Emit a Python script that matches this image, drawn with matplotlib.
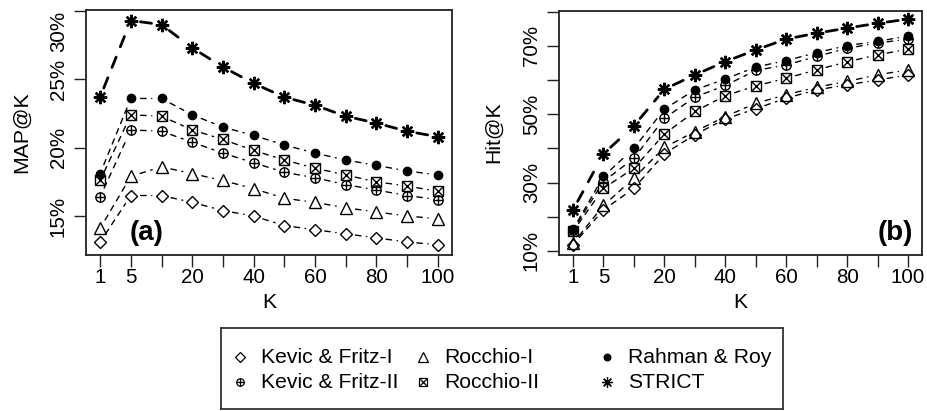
import matplotlib
matplotlib.use('Agg')
import matplotlib.pyplot as plt
import numpy as np

plt.rcParams['font.family'] = ['Liberation Sans', 'DejaVu Sans']

# K values (equally spaced on the axis), labels R kept after overlap removal
K = [1, 5, 10, 20, 30, 40, 50, 60, 70, 80, 90, 100]
K_SHOWN = ['1', '5', '', '20', '', '40', '', '60', '', '80', '', '100']

METHODS = ['Kevic & Fritz-I', 'Kevic & Fritz-II', 'Rocchio-I',
           'Rocchio-II', 'Rahman & Roy', 'STRICT']

# (a) MAP@K in %
map_kf1 = [13.1, 16.5, 16.5, 16.0, 15.4, 15.0, 14.3, 14.0, 13.7, 13.4, 13.1, 12.9]
map_kf2 = [16.4, 21.3, 21.2, 20.4, 19.6, 18.9, 18.2, 17.8, 17.3, 16.9, 16.5, 16.2]
map_r1 = [14.1, 17.9, 18.6, 18.1, 17.6, 17.0, 16.3, 16.0, 15.6, 15.3, 15.0, 14.8]
map_r2 = [17.6, 22.4, 22.3, 21.3, 20.6, 19.8, 19.1, 18.5, 18.0, 17.5, 17.2, 16.8]
map_rr = [18.1, 23.6, 23.6, 22.4, 21.5, 20.9, 20.2, 19.6, 19.1, 18.7, 18.3, 18.0]
map_strict = [23.7, 29.3, 29.0, 27.3, 25.9, 24.7, 23.7, 23.1, 22.3, 21.8, 21.2, 20.8]

# (b) Hit@K in %
hit_kf1 = [11.8, 22.0, 28.3, 38.4, 44.0, 48.6, 51.6, 54.7, 57.1, 58.6, 60.0, 61.5]
hit_kf2 = [16.1, 30.3, 37.1, 48.8, 55.0, 58.4, 62.8, 64.4, 66.9, 69.3, 70.8, 72.0]
hit_r1 = [12.2, 23.3, 31.3, 40.3, 44.9, 49.3, 53.2, 55.7, 57.9, 59.6, 61.5, 63.0]
hit_r2 = [15.7, 28.3, 34.2, 44.2, 50.8, 55.4, 58.3, 60.5, 63.0, 65.3, 67.4, 69.0]
hit_rr = [16.3, 31.8, 40.0, 51.5, 57.1, 60.3, 63.8, 65.7, 68.0, 70.1, 71.3, 72.9]
hit_strict = [22.0, 38.4, 46.6, 57.3, 61.5, 65.4, 68.8, 72.0, 73.7, 75.2, 76.6, 77.8]

MAP_SERIES = [map_kf1, map_kf2, map_r1, map_r2, map_rr, map_strict]
HIT_SERIES = [hit_kf1, hit_kf2, hit_r1, hit_r2, hit_rr, hit_strict]

# marker layers per method: (marker, size, filled, edge width)
MARKERS = {
    'Kevic & Fritz-I': [('D', 6.6, False, 1.0)],
    'Kevic & Fritz-II': [('o', 6.7, False, 1.0), ('+', 6.7, False, 1.0)],
    'Rocchio-I': [('^', 9.2, False, 1.0)],
    'Rocchio-II': [('s', 7.2, False, 1.0), ('x', 7.2, False, 1.0)],
    'Rahman & Roy': [('o', 6.0, True, 1.0)],
    'STRICT': [((8, 2, 0), 9.6, False, 1.7)],
}
LINE_W = {'STRICT': 2.0}


def draw_markers(ax, x, y, name, scale=1.0, thin=False):
    for m, s, filled, mew in MARKERS[name]:
        ax.plot(x, y, linestyle='none', marker=m, markersize=s * scale,
                markerfacecolor='black' if filled else 'none',
                markeredgecolor='black', markeredgewidth=0.9 if thin else mew,
                zorder=3, clip_on=False)


def panel(ax, series, ylim, yticks, ylabels, tag, tag_x):
    xs = np.arange(1, len(K) + 1)
    for name, vals in zip(METHODS, series):
        lw = LINE_W.get(name, 1.0)
        for i in range(len(xs) - 1):
            ax.annotate('', xy=(xs[i + 1], vals[i + 1]), xytext=(xs[i], vals[i]),
                        arrowprops=dict(arrowstyle='-', shrinkA=7, shrinkB=7,
                                        lw=lw, linestyle=(0, (4, 4)), color='black'))
        draw_markers(ax, xs, vals, name)
    ax.set_xlim(1 - 0.46, len(K) + 0.46)
    ax.set_ylim(*ylim)
    ax.set_xticks(xs)
    ax.set_xticklabels(K_SHOWN)
    ax.set_yticks(yticks)
    ax.set_yticklabels(ylabels, rotation=90, va='center')
    ax.tick_params(axis='both', direction='out', length=8.6, width=1.0,
                   labelsize=14.8, color='#222222')
    ax.tick_params(axis='x', pad=1)
    ax.tick_params(axis='y', pad=4.5)
    for sp in ax.spines.values():
        sp.set_linewidth(1.3)
        sp.set_color('#222222')
    ax.set_xlabel('K', fontsize=15.3)
    ax.xaxis.set_label_coords(0.5, -0.155)
    ax.text(tag_x, 0.09, tag, transform=ax.transAxes, fontsize=20,
            fontweight='bold', ha='center', va='center')


fig = plt.figure(figsize=(9.27, 4.11), dpi=100)
W, H = 927, 411

ax1 = fig.add_axes([86 / W, 1 - 255 / H, 366 / W, 245 / H])
panel(ax1, MAP_SERIES, (12.15, 30.07), [15, 20, 25, 30],
      ['15%', '20%', '25%', '30%'], '(a)', (147 - 86) / 366)
ax1.yaxis.get_major_ticks()[-1].label1.set_va('top')

ax2 = fig.add_axes([559 / W, 1 - 255 / H, 363 / W, 244 / H])
panel(ax2, HIT_SERIES, (8.8, 80.2), [10, 20, 30, 40, 50, 60, 70, 80],
      ['10%', '', '30%', '', '50%', '', '70%', ''], '(b)', (895 - 559) / 363)

fig.text(22 / W, 1 - 132 / H, 'MAP@K', rotation=90, ha='center', va='center',
         fontsize=15.3)
fig.text(493 / W, 1 - 132 / H, 'Hit@K', rotation=90, ha='center', va='center',
         fontsize=15.3)

# legend box drawn in figure pixel coordinates
lax = fig.add_axes([221 / W, 1 - 409 / H, 562 / W, 81 / H])
lax.set_xlim(221, 783)
lax.set_ylim(409, 328)
lax.set_xticks([])
lax.set_yticks([])
for sp in lax.spines.values():
    sp.set_linewidth(1.3)
    sp.set_color('#333333')
col_x = [240, 423, 607]
row_y = [357, 382]
for j, name in enumerate(METHODS):
    cx = col_x[j // 2]
    cy = row_y[j % 2]
    draw_markers(lax, [cx], [cy], name, scale=0.8, thin=True)
    lax.text(cx + 21, cy, name, fontsize=15.2, ha='left', va='center')

fig.savefig('out.png', dpi=100)
